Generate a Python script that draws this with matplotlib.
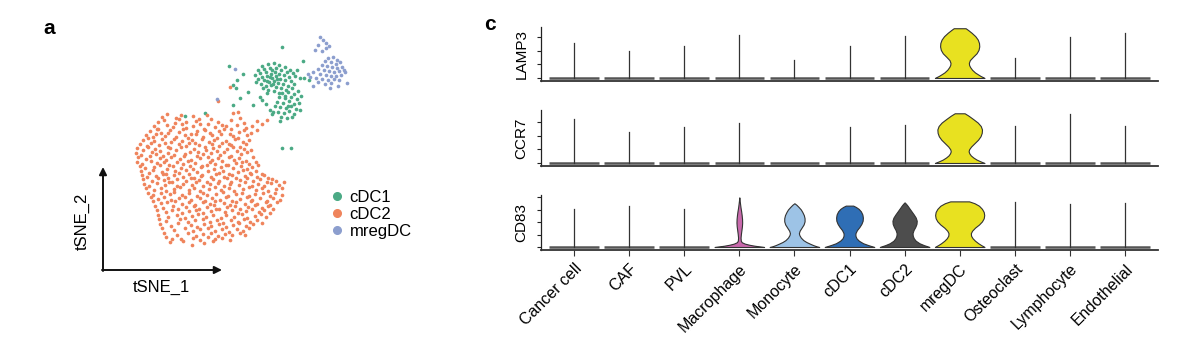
import numpy as np
import matplotlib
matplotlib.use('Agg')
import matplotlib.pyplot as plt
from matplotlib.lines import Line2D

plt.rcParams['font.family'] = ['Liberation Sans', 'DejaVu Sans']

# ---- panel a: tSNE cells, positions (px, y down) ----
cdc1_pts = [
    (262, 66), (268, 64), (274, 63), (279, 65), (285, 67), (290, 70), (258, 70), (264, 69),
    (270, 68), (276, 68), (281, 70), (287, 72), (293, 73), (297, 70), (260, 73), (266, 72),
    (271, 74), (275, 72), (279, 74), (284, 75), (289, 77), (295, 76), (300, 78), (262, 77),
    (267, 76), (272, 78), (276, 76), (280, 79), (285, 80), (291, 81), (258, 79), (264, 80),
    (269, 82), (274, 81), (278, 83), (283, 84), (288, 86), (294, 84), (261, 84), (266, 86),
    (271, 85), (276, 87), (281, 88), (268, 90), (274, 91), (279, 93), (286, 90), (292, 88),
    (255, 75), (256, 82), (263, 88), (272, 70), (277, 79), (270, 77), (267, 81), (273, 84),
    (282, 93), (288, 92), (294, 94), (298, 91), (279, 97), (285, 98), (291, 97), (297, 99),
    (301, 96), (277, 102), (283, 103), (289, 101), (294, 104), (299, 103), (280, 107),
    (286, 108), (291, 106), (296, 109), (278, 112), (284, 113), (289, 111), (294, 114),
    (281, 117), (287, 118), (275, 106), (273, 112), (292, 117), (300, 110), (285, 96),
    (288, 106), (282, 47), (303, 61), (229, 66), (243, 74), (237, 80), (233, 85), (236, 88),
    (240, 98), (233, 105), (253, 105), (260, 97), (267, 93), (270, 110), (272, 114),
    (280, 121), (282, 148), (291, 148), (205, 113), (185, 116), (304, 78), (309, 80),
    (248, 92), (262, 100), (266, 104),
]
cdc2_pts = [
    (230, 87), (218, 101), (238, 112), (233, 113),
    (162, 117), (167, 114), (176, 118), (181, 115), (193, 116), (199, 119), (207, 115),
    (158, 122), (164, 120), (175, 123), (179, 119), (186, 122), (196, 121), (200, 124),
    (211, 119), (218, 122), (222, 125), (231, 120), (240, 118), (244, 123), (257, 121),
    (262, 124), (267, 120),
    (154, 126), (158, 129), (167, 125), (173, 127), (182, 124), (186, 128), (193, 126),
    (204, 129), (208, 124), (215, 127), (226, 126), (231, 129), (237, 125), (246, 128),
    (252, 126), (257, 130),
    (150, 131), (157, 129), (161, 133), (170, 130), (179, 132), (183, 129), (191, 134),
    (197, 131), (205, 130), (210, 133), (219, 131), (224, 129), (230, 134), (239, 132),
    (244, 130), (251, 133),
    (146, 135), (153, 137), (156, 134), (165, 136), (168, 133), (176, 137), (185, 135),
    (188, 138), (196, 134), (203, 137), (212, 135), (217, 138), (221, 134), (233, 136),
    (238, 138), (247, 135),
    (143, 140), (148, 138), (154, 141), (162, 139), (171, 142), (174, 139), (182, 141),
    (192, 140), (195, 143), (202, 139), (209, 142), (214, 140), (226, 141), (229, 144),
    (235, 139), (243, 142), (249, 140),
    (140, 144), (147, 146), (151, 143), (159, 145), (165, 143), (168, 147), (179, 144),
    (186, 146), (189, 143), (199, 145), (205, 147), (212, 144), (219, 146), (222, 143),
    (231, 145), (240, 147), (246, 144),
    (137, 148), (143, 150), (148, 147), (155, 149), (160, 151), (170, 148), (176, 150),
    (181, 147), (194, 149), (198, 152), (206, 150), (213, 148), (217, 151), (227, 149),
    (233, 147), (237, 151), (244, 149), (251, 150),
    (136, 153), (141, 155), (152, 152), (156, 154), (163, 156), (168, 153), (174, 155),
    (185, 154), (190, 152), (197, 156), (203, 154), (211, 153), (220, 155), (224, 152),
    (231, 156), (241, 154), (247, 152),
    (138, 157), (146, 159), (150, 156), (160, 158), (166, 160), (171, 157), (180, 159),
    (184, 156), (191, 160), (200, 158), (208, 157), (212, 160), (218, 158), (229, 157),
    (234, 160), (239, 158), (246, 161), (253, 157),
    (137, 162), (142, 164), (151, 161), (157, 163), (164, 162), (169, 165), (177, 162),
    (183, 164), (188, 161), (195, 163), (202, 166), (210, 162), (215, 164), (222, 161),
    (228, 165), (236, 163), (242, 162), (249, 164), (256, 162),
    (140, 166), (145, 168), (154, 167), (160, 165), (167, 169), (173, 166), (181, 168),
    (190, 166), (193, 169), (201, 167), (207, 165), (214, 169), (221, 167), (226, 165),
    (233, 168), (241, 166), (247, 169), (252, 167), (258, 165),
    (141, 171), (149, 173), (153, 170), (162, 172), (166, 174), (175, 171), (179, 173),
    (186, 170), (197, 172), (202, 175), (208, 171), (219, 173), (223, 171), (229, 174),
    (238, 172), (243, 170), (250, 173), (256, 171), (262, 174),
    (142, 175), (147, 177), (156, 176), (163, 174), (168, 178), (174, 175), (183, 177),
    (189, 174), (194, 178), (201, 176), (211, 177), (216, 174), (224, 177), (232, 175),
    (236, 178), (245, 176), (251, 174), (257, 177), (264, 175), (268, 178),
    (143, 179), (152, 181), (158, 178), (164, 180), (172, 182), (177, 179), (186, 181),
    (191, 178), (199, 180), (207, 182), (213, 179), (219, 181), (227, 178), (231, 182),
    (240, 180), (247, 178), (253, 181), (260, 179), (267, 182), (272, 179), (276, 181),
    (144, 184), (149, 186), (157, 183), (165, 185), (169, 182), (177, 186), (183, 184),
    (192, 185), (196, 182), (203, 186), (210, 184), (218, 183), (224, 186), (230, 184),
    (239, 185), (245, 182), (252, 186), (258, 184), (264, 186), (271, 183), (279, 185),
    (284, 182),
    (146, 188), (154, 190), (161, 188), (166, 191), (174, 189), (180, 187), (189, 190),
    (194, 188), (200, 191), (209, 189), (215, 187), (221, 190), (229, 188), (234, 191),
    (243, 189), (249, 187), (256, 190), (262, 188), (268, 191), (276, 189), (282, 188),
    (148, 193), (153, 195), (161, 193), (170, 194), (174, 192), (182, 195), (189, 193),
    (197, 196), (203, 193), (207, 195), (216, 194), (223, 192), (228, 196), (236, 194),
    (242, 193), (249, 196), (255, 194), (263, 193), (270, 196), (275, 193), (282, 195),
    (151, 197), (158, 199), (164, 197), (171, 200), (179, 198), (185, 197), (191, 200),
    (200, 198), (205, 201), (212, 198), (220, 200), (226, 197), (232, 201), (240, 199),
    (247, 197), (252, 200), (260, 198), (267, 201), (273, 198), (280, 200),
    (153, 201), (161, 203), (167, 202), (175, 201), (182, 204), (189, 202), (195, 205),
    (203, 202), (210, 204), (215, 201), (224, 203), (230, 205), (236, 202), (245, 204),
    (251, 201), (257, 204), (266, 202), (270, 205), (277, 202),
    (155, 206), (163, 208), (173, 206), (178, 209), (186, 207), (194, 206), (199, 209),
    (207, 207), (214, 205), (219, 209), (227, 207), (235, 206), (240, 209), (248, 207),
    (255, 205), (262, 208), (268, 206), (273, 209),
    (157, 210), (166, 212), (172, 210), (182, 213), (189, 211), (196, 210), (203, 213),
    (211, 211), (216, 209), (225, 212), (232, 210), (238, 213), (246, 211), (252, 209),
    (259, 212), (264, 210), (270, 213),
    (158, 215), (168, 217), (177, 215), (185, 218), (192, 216), (198, 214), (206, 217),
    (213, 215), (221, 218), (226, 215), (234, 217), (242, 214), (247, 218), (255, 216),
    (261, 214), (266, 217),
    (159, 219), (166, 221), (180, 219), (188, 222), (195, 220), (203, 219), (210, 222),
    (217, 220), (223, 223), (231, 220), (238, 222), (244, 219), (250, 222), (257, 220),
    (262, 223),
    (160, 224), (171, 226), (178, 223), (191, 225), (197, 227), (204, 224), (211, 226),
    (219, 224), (226, 227), (233, 225), (239, 223), (246, 226), (253, 224),
    (162, 228), (174, 230), (185, 228), (193, 231), (200, 229), (208, 228), (215, 231),
    (222, 229), (229, 232), (237, 229), (243, 231), (249, 228),
    (164, 233), (177, 235), (188, 233), (196, 236), (203, 234), (211, 233), (218, 236),
    (225, 234), (232, 235), (240, 233), (245, 235),
    (166, 237), (181, 239), (193, 238), (200, 240), (208, 237), (215, 239), (222, 238),
    (230, 240), (170, 242), (183, 241), (192, 245), (204, 243), (213, 241), (172, 239),
]
mreg_pts = [
    (320, 37), (323, 40), (326, 43), (318, 45), (326, 48), (322, 51), (329, 46), (315, 50),
    (328, 58), (333, 57), (337, 60), (325, 61), (331, 62), (336, 64), (340, 62), (322, 65),
    (327, 66), (332, 67), (337, 68), (342, 67), (318, 69), (324, 70), (329, 71), (334, 72),
    (339, 71), (344, 70), (313, 72), (320, 74), (326, 75), (331, 76), (336, 76), (341, 75),
    (310, 77), (316, 78), (322, 79), (328, 80), (334, 79), (339, 80), (308, 74), (318, 82),
    (325, 84), (331, 83), (347, 83), (345, 72), (313, 86), (235, 69), (217, 99), (338, 86),
    (330, 88),
]
cluster_names = ['cDC1', 'cDC2', 'mregDC']
cluster_colors = ['#4BAA85', '#EF845C', '#8C9ECE']

# ---- panel c: stacked violins ----
cell_types = ['Cancer cell', 'CAF', 'PVL', 'Macrophage', 'Monocyte', 'cDC1',
              'cDC2', 'mregDC', 'Osteoclast', 'Lymphocyte', 'Endothelial']
genes = ['LAMP3', 'CCR7', 'CD83']
lamp3_max = [2.53, 1.99, 2.36, 3.16, 1.29, 2.34, 3.07, 3.63, 1.48, 3.01, 3.31]
ccr7_max = [3.21, 2.26, 2.65, 2.90, 0.0, 2.63, 2.75, 3.63, 2.72, 3.55, 2.72]
cd83_max = [3.01, 3.28, 3.01, 3.97, 3.50, 3.31, 3.57, 3.65, 3.63, 3.44, 3.54]

# outlines of the expressing groups: level, relative half width
lamp3_mreg_y = [0, 0.05, 0.15, 0.25, 0.4, 0.6, 0.8, 0.95, 1.1, 1.3, 1.55, 1.8, 2.05, 2.3, 2.55, 2.8, 3.05, 3.3, 3.5, 3.63]
lamp3_mreg_w = [1.0, 0.95, 0.84, 0.75, 0.62, 0.5, 0.42, 0.38, 0.37, 0.41, 0.54, 0.68, 0.76, 0.79, 0.78, 0.73, 0.63, 0.48, 0.34, 0.24]
ccr7_mreg_y = [0, 0.05, 0.15, 0.25, 0.4, 0.55, 0.7, 0.85, 1.0, 1.2, 1.45, 1.7, 1.95, 2.2, 2.45, 2.7, 2.95, 3.2, 3.45, 3.63]
ccr7_mreg_w = [1.0, 0.93, 0.8, 0.68, 0.55, 0.45, 0.39, 0.36, 0.38, 0.46, 0.6, 0.74, 0.84, 0.89, 0.9, 0.85, 0.73, 0.55, 0.36, 0.2]
cd83_macro_y = [0, 0.04, 0.1, 0.18, 0.27, 0.38, 0.5, 0.75, 1.05, 1.35, 1.65, 1.95, 2.25, 2.55, 2.85, 3.15, 3.45, 3.75, 3.97]
cd83_macro_w = [1.0, 0.85, 0.62, 0.4, 0.22, 0.1, 0.06, 0.05, 0.065, 0.085, 0.105, 0.115, 0.11, 0.095, 0.075, 0.05, 0.03, 0.012, 0.0]
cd83_mono_y = [0, 0.05, 0.15, 0.27, 0.4, 0.55, 0.75, 0.95, 1.1, 1.3, 1.55, 1.8, 2.05, 2.3, 2.55, 2.8, 3.0, 3.2, 3.38, 3.5]
cd83_mono_w = [1.0, 0.9, 0.76, 0.62, 0.48, 0.36, 0.26, 0.2, 0.18, 0.21, 0.29, 0.37, 0.41, 0.41, 0.38, 0.32, 0.26, 0.17, 0.08, 0.0]
cd83_cdc1_y = [0, 0.05, 0.15, 0.3, 0.5, 0.7, 0.9, 1.1, 1.35, 1.6, 1.85, 2.1, 2.35, 2.6, 2.85, 3.05, 3.2, 3.31]
cd83_cdc1_w = [1.0, 0.92, 0.76, 0.55, 0.38, 0.28, 0.24, 0.24, 0.3, 0.4, 0.48, 0.53, 0.54, 0.52, 0.46, 0.37, 0.26, 0.15]
cd83_cdc2_y = [0, 0.05, 0.15, 0.3, 0.5, 0.7, 0.9, 1.1, 1.35, 1.6, 1.85, 2.1, 2.35, 2.6, 2.85, 3.1, 3.3, 3.45, 3.57]
cd83_cdc2_w = [1.0, 0.93, 0.78, 0.6, 0.45, 0.37, 0.33, 0.32, 0.36, 0.43, 0.48, 0.49, 0.45, 0.37, 0.28, 0.19, 0.12, 0.06, 0.0]
cd83_mreg_y = [0, 0.05, 0.15, 0.3, 0.5, 0.7, 0.9, 1.1, 1.3, 1.55, 1.8, 2.05, 2.3, 2.55, 2.8, 3.05, 3.3, 3.5, 3.65]
cd83_mreg_w = [1.0, 0.96, 0.87, 0.75, 0.62, 0.52, 0.46, 0.45, 0.5, 0.62, 0.78, 0.9, 0.97, 0.99, 0.97, 0.9, 0.78, 0.6, 0.38]

gene_max = {'LAMP3': lamp3_max, 'CCR7': ccr7_max, 'CD83': cd83_max}
violins = {
    ('LAMP3', 'mregDC'): (lamp3_mreg_y, lamp3_mreg_w),
    ('CCR7', 'mregDC'): (ccr7_mreg_y, ccr7_mreg_w),
    ('CD83', 'Macrophage'): (cd83_macro_y, cd83_macro_w),
    ('CD83', 'Monocyte'): (cd83_mono_y, cd83_mono_w),
    ('CD83', 'cDC1'): (cd83_cdc1_y, cd83_cdc1_w),
    ('CD83', 'cDC2'): (cd83_cdc2_y, cd83_cdc2_w),
    ('CD83', 'mregDC'): (cd83_mreg_y, cd83_mreg_w),
}
violin_colors = {'Macrophage': '#C869AC', 'Monocyte': '#9DC3E6', 'cDC1': '#2F6EB5',
                 'cDC2': '#4D4D4D', 'mregDC': '#E8E120'}
gene_ticks = {'LAMP3': [0, 1, 2, 3], 'CCR7': [0, 1, 2, 3], 'CD83': [0, 1, 2, 3, 4]}
gene_ylim = {'LAMP3': (-0.22, 3.72), 'CCR7': (-0.22, 3.87), 'CD83': (-0.24, 4.16)}
# axes boxes in pixels: top, bottom
row_px = {'LAMP3': (27, 81), 'CCR7': (110, 166), 'CD83': (195, 250)}

W, H = 1196, 356
fig = plt.figure(figsize=(W / 100, H / 100), dpi=100)

# panel a
ax_a = fig.add_axes([0, 0, 480 / W, 1])
ax_a.set_xlim(0, 480)
ax_a.set_ylim(H, 0)
ax_a.axis('off')
handles = []
for name, col, pts in zip(cluster_names, cluster_colors, [cdc1_pts, cdc2_pts, mreg_pts]):
    xs = [p[0] for p in pts]
    ys = [p[1] for p in pts]
    ax_a.scatter(xs, ys, s=7, color=col, linewidths=0)
    handles.append(Line2D([], [], marker='o', ls='none', color=col, markersize=5.5, label=name))
ax_a.legend(handles=handles, loc='upper left', bbox_to_anchor=(327, 190),
            bbox_transform=ax_a.transData, frameon=False, fontsize=12,
            handletextpad=0.15, labelspacing=0.12, borderpad=0, borderaxespad=0,
            handlelength=1.2)
arrow = dict(arrowstyle='-|>', color='#111111', lw=1.4, mutation_scale=11, shrinkA=0, shrinkB=0)
ax_a.annotate('', xy=(103, 167), xytext=(103, 271), arrowprops=arrow)
ax_a.annotate('', xy=(222, 270), xytext=(102, 270), arrowprops=arrow)
ax_a.text(82, 221, 'tSNE_2', rotation=90, ha='center', va='center', fontsize=12)
ax_a.text(161, 287, 'tSNE_1', ha='center', va='center', fontsize=12)

fig.text(43 / W, 1 - 28 / H, 'a', fontsize=15, fontweight='bold', va='center')
fig.text(484 / W, 1 - 25 / H, 'c', fontsize=15, fontweight='bold', va='center')

# panel c
x_left, x_right = 541, 1158
for gene in genes:
    top, bot = row_px[gene]
    ax = fig.add_axes([x_left / W, 1 - bot / H, (x_right - x_left) / W, (bot - top) / H])
    for i, ct in enumerate(cell_types):
        x = i + 1
        key = (gene, ct)
        if key in violins:
            yy = np.array(violins[key][0])
            ww = np.array(violins[key][1]) * 0.45
            ax.fill_betweenx(yy, x - ww, x + ww, facecolor=violin_colors[ct],
                             edgecolor='#333333', lw=0.8)
        else:
            ax.plot([x - 0.45, x + 0.45], [0, 0], color='#555555', lw=1.8,
                    solid_capstyle='butt')
            mx = gene_max[gene][i]
            if mx > 0:
                ax.plot([x, x], [0, mx], color='#333333', lw=0.9)
    ax.set_xlim(0.4, 11.6)
    ax.set_ylim(*gene_ylim[gene])
    ax.set_yticks(gene_ticks[gene])
    ax.set_yticklabels([])
    ax.set_ylabel(gene, fontsize=11, labelpad=2.5)
    for side in ['top', 'right']:
        ax.spines[side].set_visible(False)
    ax.spines['left'].set_linewidth(0.9)
    ax.spines['bottom'].set_linewidth(1.3)
    ax.spines['left'].set_color('#222222')
    ax.spines['bottom'].set_color('#333333')
    ax.tick_params(axis='y', length=3, width=0.8, color='#222222')
    ax.set_xticks(range(1, len(cell_types) + 1))
    if gene == 'CD83':
        ax.set_xticklabels(cell_types, rotation=45, ha='right', va='top',
                           rotation_mode='anchor', fontsize=11.5)
        ax.tick_params(axis='x', length=4, width=0.8, color='#333333', pad=4)
    else:
        ax.tick_params(axis='x', length=0, labelbottom=False)
    ax.set_facecolor('none')

fig.savefig('out.png', dpi=100)
